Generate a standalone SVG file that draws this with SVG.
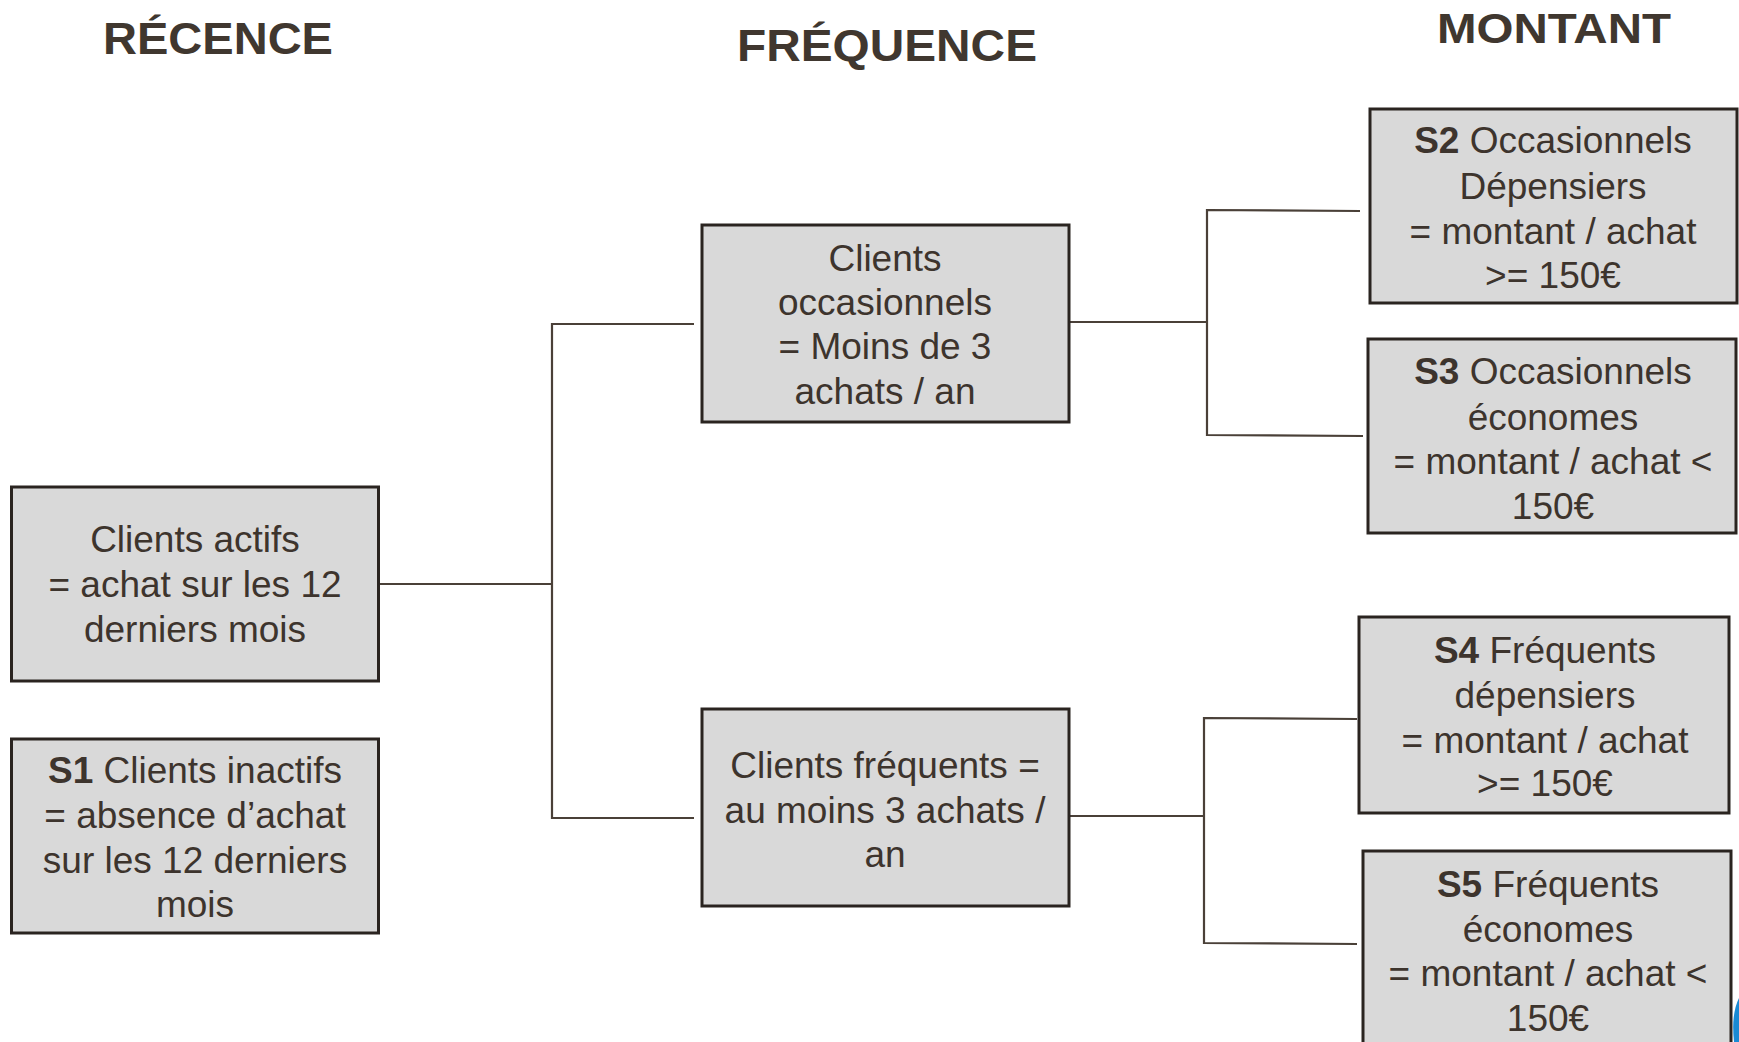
<svg xmlns="http://www.w3.org/2000/svg" width="1739" height="1042" viewBox="0 0 1739 1042">
<style>
.title{font-family:"Liberation Sans",Arial,sans-serif;font-weight:bold;font-size:44px;fill:#40372f}
.box{fill:#d9d9d9;stroke:#2a2420;stroke-width:3}
.t{font-family:"Liberation Sans",Arial,sans-serif;font-size:37px;fill:#3d342d;text-anchor:middle}
.b{font-weight:bold}
.conn{fill:none;stroke:#4a4038;stroke-width:2.2}
</style>
<rect width="1739" height="1042" fill="#ffffff"/>
<g id="titles">
<text class="title" x="103" y="54" textLength="230" lengthAdjust="spacingAndGlyphs">RÉCENCE</text>
<text class="title" x="737" y="61" textLength="300" lengthAdjust="spacingAndGlyphs">FRÉQUENCE</text>
<text class="title" x="1437" y="43" textLength="234" lengthAdjust="spacingAndGlyphs" style="font-size:43px">MONTANT</text>
</g>
<g id="connectors">
<polyline class="conn" points="379,584 552,584"/>
<polyline class="conn" points="694,324 552,324 552,818 694,818"/>
<polyline class="conn" points="1069,322 1207,322"/>
<polyline class="conn" points="1360,211 1207,210 1207,435 1363,436"/>
<polyline class="conn" points="1069,816 1204,816"/>
<polyline class="conn" points="1357,719 1204,718 1204,943 1357,944"/>
</g>
<g id="actifs">
<rect class="box" x="11.5" y="487" width="367" height="194"/>
<text class="t" x="195" y="552">Clients actifs</text>
<text class="t" x="195" y="597">= achat sur les 12</text>
<text class="t" x="195" y="642">derniers mois</text>
</g>
<g id="s1">
<rect class="box" x="11.5" y="739" width="367" height="194"/>
<text class="t" x="195" y="783"><tspan class="b">S1</tspan> Clients inactifs</text>
<text class="t" x="195" y="828">= absence d’achat</text>
<text class="t" x="195" y="873">sur les 12 derniers</text>
<text class="t" x="195" y="917">mois</text>
</g>
<g id="occasionnels">
<rect class="box" x="702" y="225" width="367" height="197"/>
<text class="t" x="885" y="271">Clients</text>
<text class="t" x="885" y="315">occasionnels</text>
<text class="t" x="885" y="359">= Moins de 3</text>
<text class="t" x="885" y="404">achats / an</text>
</g>
<g id="frequents">
<rect class="box" x="702" y="709" width="367" height="197"/>
<text class="t" x="885" y="778">Clients fréquents =</text>
<text class="t" x="885" y="823">au moins 3 achats /</text>
<text class="t" x="885" y="867">an</text>
</g>
<g id="s2">
<rect class="box" x="1370" y="109" width="367" height="194"/>
<text class="t" x="1553" y="153"><tspan class="b">S2</tspan> Occasionnels</text>
<text class="t" x="1553" y="199">Dépensiers</text>
<text class="t" x="1553" y="244">= montant / achat</text>
<text class="t" x="1553" y="288">&gt;= 150€</text>
</g>
<g id="s3">
<rect class="box" x="1368" y="339" width="368" height="194"/>
<text class="t" x="1553" y="384"><tspan class="b">S3</tspan> Occasionnels</text>
<text class="t" x="1553" y="430">économes</text>
<text class="t" x="1553" y="474">= montant / achat &lt;</text>
<text class="t" x="1553" y="519">150€</text>
</g>
<g id="s4">
<rect class="box" x="1359" y="617" width="370" height="196"/>
<text class="t" x="1545" y="663"><tspan class="b">S4</tspan> Fréquents</text>
<text class="t" x="1545" y="708">dépensiers</text>
<text class="t" x="1545" y="753">= montant / achat</text>
<text class="t" x="1545" y="796">&gt;= 150€</text>
</g>
<g id="s5">
<rect class="box" x="1363" y="851" width="368" height="210"/>
<text class="t" x="1548" y="897"><tspan class="b">S5</tspan> Fréquents</text>
<text class="t" x="1548" y="942">économes</text>
<text class="t" x="1548" y="986">= montant / achat &lt;</text>
<text class="t" x="1548" y="1031">150€</text>
</g>
<path d="M1739,998 Q1731,1014 1734,1042 L1739,1042 Z" fill="#1a8ad4"/>
</svg>
